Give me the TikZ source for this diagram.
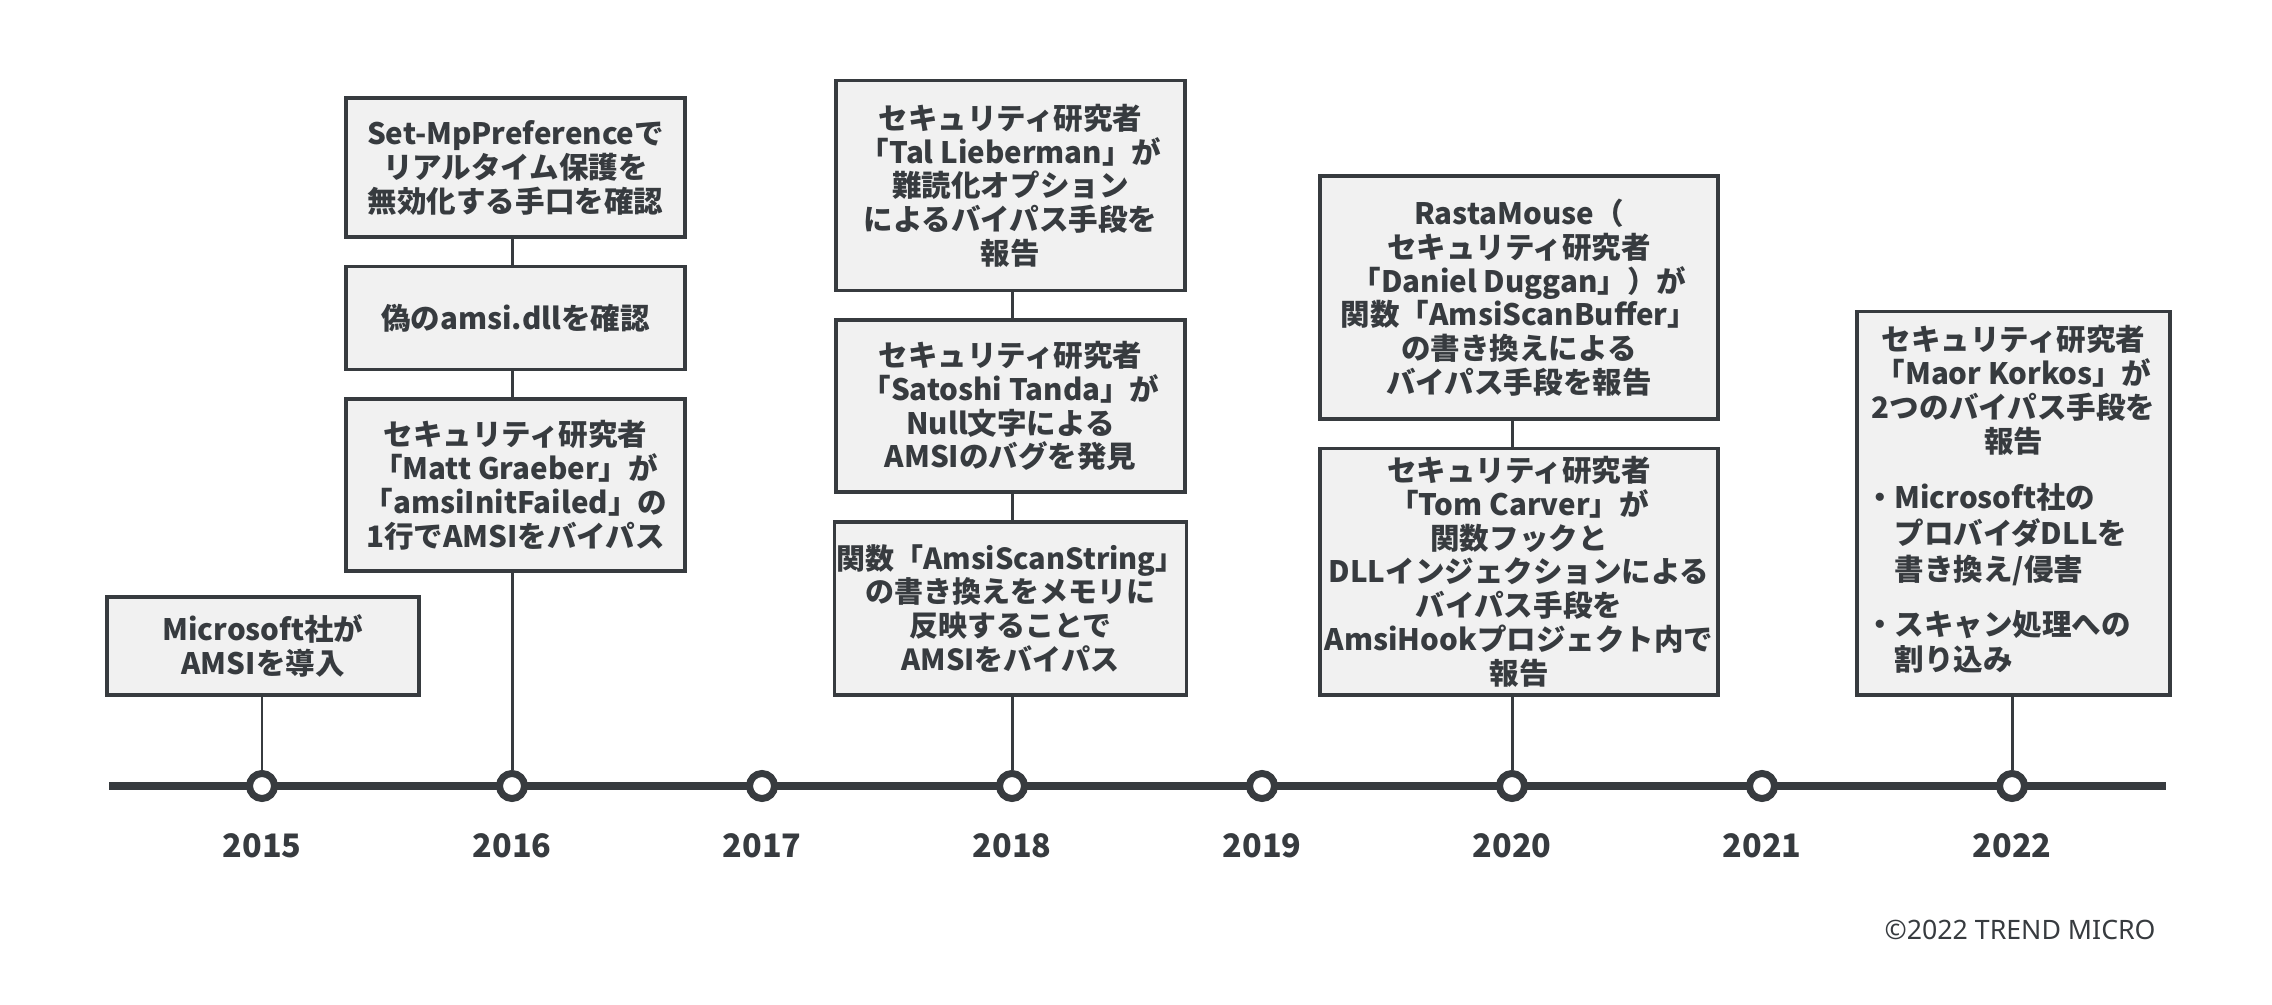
\documentclass[tikz,border=0pt]{standalone}
\usepackage{fontspec}
\setmainfont{Noto Sans CJK JP}
\newfontfamily\creditfont{Noto Sans}
\usetikzlibrary{positioning}
\definecolor{ink}{HTML}{373B3F}
\definecolor{boxgray}{HTML}{F1F1F1}

\begin{document}
\begin{tikzpicture}[
		box/.style={draw=ink,fill=boxgray,line width=1pt,text=ink,align=center,inner sep=0.5pt,
			font=\bfseries\fontsize{8.4}{9.6}\selectfont},
		stem/.style={draw=ink,line width=0.85pt},
		timeline/.style={draw=ink,line width=2.3pt},
		yeardot/.style={circle,draw=ink,fill=white,line width=2pt,inner sep=0pt,minimum size=0.25cm},
		yearlabel/.style={text=ink,font=\bfseries\fontsize{9.2}{10}\selectfont},
		node distance=0.26cm
	]
	\useasboundingbox (0,0) rectangle (22.72,10.04);
	% Time axis with one dot per year
	\coordinate (tlstart) at (1.09,2.18);
	\coordinate (tlend) at (21.66,2.18);
	\draw[timeline] (tlstart) -- (tlend);
	\foreach \yr [count=\i from 0] in {2015,...,2022} {
		\node[yeardot] (d\yr) at (2.62+2.5*\i,2.18) {};
		\node[yearlabel] (y\yr) at (2.62+2.5*\i,1.58) {\yr};
	}

	% 2015
	\node[box,minimum width=3.12cm,minimum height=0.98cm,anchor=south] (b15) at (2.63,3.075)
		{Microsoft社が\\AMSIを導入};
	% 2016
	\node[box,minimum width=3.39cm,minimum height=1.72cm,anchor=south] (b16c) at (5.155,4.31)
		{セキュリティ研究者\\「Matt Graeber」が\\「amsiInitFailed」の\\1行でAMSIをバイパス};
	\node[box,minimum width=3.39cm,minimum height=1.03cm,above=of b16c] (b16b)
		{偽のamsi.dllを確認};
	\node[box,minimum width=3.39cm,minimum height=1.39cm,above=of b16b] (b16a)
		{Set-MpPreferenceで\\リアルタイム保護を\\無効化する手口を確認};
	% 2018
	\node[box,minimum width=3.49cm,minimum height=1.73cm,anchor=south,font=\bfseries\fontsize{8.25}{9.6}\selectfont] (b18c) at (10.105,3.075)
		{関数「AmsiScanString」\\の書き換えをメモリに\\反映することで\\AMSIをバイパス};
	\node[box,minimum width=3.49cm,minimum height=1.72cm,above=of b18c] (b18b)
		{セキュリティ研究者\\「Satoshi Tanda」が\\Null文字による\\AMSIのバグを発見};
	\node[box,minimum width=3.49cm,minimum height=2.10cm,above=of b18b] (b18a)
		{セキュリティ研究者\\「Tal Lieberman」が\\難読化オプション\\によるバイパス手段を\\報告};
	% 2020
	\node[box,minimum width=3.98cm,minimum height=2.46cm,anchor=south] (b20b) at (15.19,3.075)
		{セキュリティ研究者\\「Tom Carver」が\\関数フックと\\DLLインジェクションによる\\バイパス手段を\\AmsiHookプロジェクト内で\\報告};
	\node[box,minimum width=3.98cm,minimum height=2.43cm,above=of b20b] (b20a)
		{RastaMouse（\\セキュリティ研究者\\「Daniel Duggan」）が\\関数「AmsiScanBuffer」\\の書き換えによる\\バイパス手段を報告};
	% 2022
	\node[box,minimum width=3.13cm,minimum height=3.83cm,anchor=south,text width=2.97cm,align=none] (b22) at (20.135,3.075)
		{{\centering セキュリティ研究者\\「Maor Korkos」が\\2つのバイパス手段を\\報告\par}
		\vspace{0.25cm}
		\noindent\begin{tabular}{@{}l@{}l@{}}
			・&Microsoft社の\\&プロバイダDLLを\\&書き換え/侵害\\[0.2cm]
			・&スキャン処理への\\&割り込み
		\end{tabular}};

	% stems from the dots up to the boxes
	\foreach \yr/\b in {2015/b15,2016/b16c,2018/b18c,2020/b20b,2022/b22}
		\draw[stem] (d\yr.north) -- (d\yr.north |- \b.south);
	\foreach \yr/\a/\b in {2016/b16c/b16b,2016/b16b/b16a,2018/b18c/b18b,2018/b18b/b18a,2020/b20b/b20a}
		\draw[stem] (d\yr |- \a.north) -- (d\yr |- \b.south);

	\node[text=ink,font=\creditfont\fontsize{7.6}{9}\selectfont,anchor=east] (credit) at (21.68,0.74)
		{©2022 TREND MICRO};
\end{tikzpicture}
\end{document}
